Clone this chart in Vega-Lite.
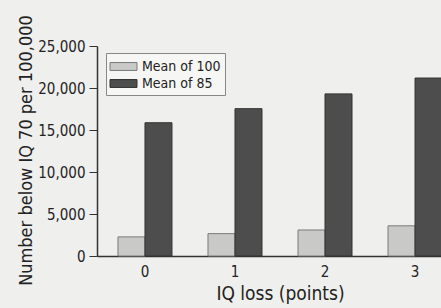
{
  "$schema": "https://vega.github.io/schema/vega-lite/v6.json",
  "autosize": "none",
  "width": 366,
  "height": 210,
  "padding": {"left": 97, "top": 46, "right": 0, "bottom": 52},
  "background": "#efefed",
  "config": {
    "view": {"stroke": null},
    "font": "DejaVu Sans Condensed, Roboto",
    "axis": {"domainColor": "#333333", "tickColor": "#333333", "labelColor": "#222222", "titleColor": "#222222", "grid": false, "labelFont": "DejaVu Sans Condensed, Roboto", "titleFont": "DejaVu Sans Condensed, Roboto", "titleFontWeight": "normal"},
    "legend": {"labelFont": "DejaVu Sans Condensed, Roboto"}
  },
  "data": {
    "values": [
      {"loss": "0", "series": "Mean of 100", "value": 2275},
      {"loss": "0", "series": "Mean of 85", "value": 15866},
      {"loss": "1", "series": "Mean of 100", "value": 2660},
      {"loss": "1", "series": "Mean of 85", "value": 17540},
      {"loss": "2", "series": "Mean of 100", "value": 3097},
      {"loss": "2", "series": "Mean of 85", "value": 19300},
      {"loss": "3", "series": "Mean of 100", "value": 3593},
      {"loss": "3", "series": "Mean of 85", "value": 21186}
    ]
  },
  "mark": {"type": "bar", "strokeWidth": 1},
  "encoding": {
    "x": {
      "field": "loss", "type": "nominal",
      "scale": {"paddingInner": 0.4, "paddingOuter": 0.233},
      "axis": {"title": "IQ loss (points)", "labelAngle": 0, "ticks": false, "labelFontSize": 15, "labelPadding": 8, "titleFontSize": 19, "titlePadding": 5, "domainWidth": 1.5}
    },
    "xOffset": {"field": "series", "type": "nominal", "sort": ["Mean of 100", "Mean of 85"]},
    "y": {
      "field": "value", "type": "quantitative",
      "scale": {"domain": [0, 25000]},
      "axis": {"title": "Number below IQ 70 per 100,000", "values": [0, 5000, 10000, 15000, 20000, 25000], "format": ",d", "tickSize": 8, "labelPadding": 4, "labelFontSize": 15, "titleFontSize": 18, "titleBaseline": "alphabetic", "titleX": -66, "titleY": 104, "titleAlign": "center", "domainWidth": 1.5}
    },
    "color": {
      "field": "series", "type": "nominal",
      "scale": {"domain": ["Mean of 100", "Mean of 85"], "range": ["#c9c9c7", "#4d4d4d"]},
      "legend": {"title": null, "orient": "none", "legendX": 9, "legendY": 7, "fillColor": "#f6f6f4", "strokeColor": "#888888", "padding": 4, "labelFontSize": 14, "labelColor": "#222222", "symbolType": "M-1.5,-0.44H1.5V0.44H-1.5Z", "symbolSize": 324, "symbolStrokeColor": "#666666", "symbolStrokeWidth": 1, "symbolOffset": 4, "rowPadding": 0, "labelOffset": 9}
    },
    "stroke": {
      "field": "series", "type": "nominal",
      "scale": {"domain": ["Mean of 100", "Mean of 85"], "range": ["#7a7a7a", "#333333"]},
      "legend": null
    }
  }
}
